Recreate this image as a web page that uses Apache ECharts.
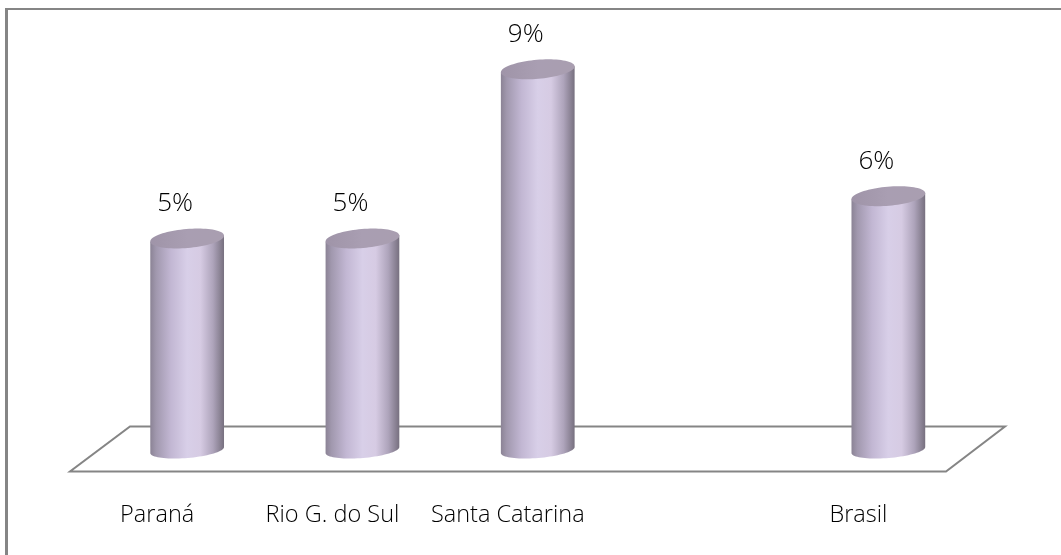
<!DOCTYPE html>
<html>
<head>
<meta charset="utf-8">
<style>html,body{margin:0;padding:0;background:#fff}#c{width:1061px;height:555px}</style>
<script src="https://cdn.jsdelivr.net/npm/echarts@6/dist/echarts.min.js"></script>
</head>
<body>
<div id="c"></div>
<script>
const categories = ['Paraná', 'Rio G. do Sul', 'Santa Catarina', '', 'Brasil'];
const values = [5, 5, 9, null, 6];
const valueMin = 0;
const valueMax = 10;

const LINE = '#858585';
const FONT = '"Open Sans", sans-serif';
const BAR_WIDTH = 74;
const RY = 9.5;
const RY_BASE = 8;
const TILT = -0.085;

function renderCylinder(params, api) {
  const i = api.value(0);
  const v = api.value(1);
  if (v == null || isNaN(v)) return null;
  const top = api.coord([i, v]);
  const base = api.coord([i, 0]);
  const rx = BAR_WIDTH / 2;
  const pt = (cx, cy, a, ry) => {
    const x = rx * Math.cos(a), y = ry * Math.sin(a);
    return [cx + x * Math.cos(TILT) - y * Math.sin(TILT), cy + x * Math.sin(TILT) + y * Math.cos(TILT)];
  };
  const body = [];
  body.push(pt(top[0], top[1], Math.PI, RY));
  for (let a = Math.PI; a >= 0; a -= Math.PI / 40) body.push(pt(base[0], base[1], a, RY_BASE));
  body.push(pt(base[0], base[1], 0, RY_BASE));
  body.push(pt(top[0], top[1], 0, RY));
  const cap = [];
  for (let a = 0; a < Math.PI * 2; a += Math.PI / 40) cap.push(pt(top[0], top[1], a, RY));
  return {
    type: 'group',
    children: [
      {
        type: 'polygon',
        shape: { points: body },
        style: {
          fill: new echarts.graphic.LinearGradient(0, 0, 1, 0, [
            { offset: 0, color: '#8b8395' },
            { offset: 0.08, color: '#a198ae' },
            { offset: 0.28, color: '#c2b7d3' },
            { offset: 0.5, color: '#d8cfe8' },
            { offset: 0.68, color: '#d6cbe3' },
            { offset: 0.85, color: '#aea4bb' },
            { offset: 1, color: '#77707f' }
          ])
        }
      },
      {
        type: 'polygon',
        shape: { points: cap },
        style: {
          fill: new echarts.graphic.LinearGradient(0, 0, 1, 0, [
            { offset: 0, color: '#9f94a8' },
            { offset: 0.5, color: '#a99eb2' },
            { offset: 1, color: '#a99eb0' }
          ])
        }
      },
      {
        type: 'text',
        style: {
          x: top[0] - 12,
          y: top[1] - 35,
          text: v + '%',
          fill: '#000',
          font: '300 26px ' + FONT,
          align: 'center',
          verticalAlign: 'middle'
        }
      }
    ]
  };
}

const chart = echarts.init(document.getElementById('c'), null, { renderer: 'canvas' });
chart.setOption({
  animation: false,
  backgroundColor: '#fff',
  grid: { left: 99.5, right: 85, top: 27, height: 423, containLabel: false },
  xAxis: {
    type: 'category',
    data: categories,
    axisLine: { show: false },
    axisTick: { show: false },
    axisLabel: { margin: 53, padding: [0, 60, 0, 0], color: '#000', fontFamily: FONT, fontWeight: 300, fontSize: 23.5, interval: 0 }
  },
  yAxis: { type: 'value', min: valueMin, max: valueMax, show: false },
  graphic: [
    { type: 'line', z: -1, shape: { x1: 5, y1: 9, x2: 1061, y2: 9 }, style: { stroke: LINE, lineWidth: 2 } },
    { type: 'line', z: -1, shape: { x1: 6.5, y1: 8, x2: 6.5, y2: 555 }, style: { stroke: LINE, lineWidth: 3 } },
    { type: 'polygon', z: -1, shape: { points: [[130, 426.5], [1005, 426.5], [946, 471.5], [70, 471.5]] },
      style: { fill: 'none', stroke: LINE, lineWidth: 2 } }
  ],
  series: [{
    type: 'custom',
    renderItem: renderCylinder,
    encode: { x: 0, y: 1 },
    data: values.map((v, i) => [i, v]),
    z: 5
  }]
});
</script>
</body>
</html>
